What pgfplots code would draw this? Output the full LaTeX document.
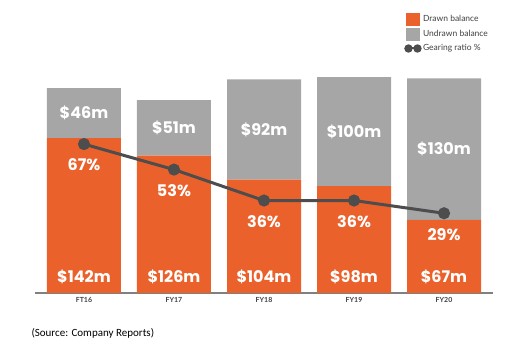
\documentclass[border=0pt]{standalone}
\usepackage{pgfplots}
\pgfplotsset{compat=1.18}
\usepackage{fontspec}
\setmainfont{Lato}
\newfontfamily\valfont{Poppins}
\newfontfamily\srcfont{Carlito}
\definecolor{drawn}{HTML}{EB612B}
\definecolor{undrawn}{HTML}{A6A6A6}
\definecolor{linec}{HTML}{4D4D4D}
\definecolor{axisgray}{HTML}{808080}
\definecolor{ticktext}{HTML}{404040}
\begin{document}
\begin{tikzpicture}[x=1pt,y=1pt]
\useasboundingbox (0,0) rectangle (518,352);
\pgfplotsset{base/.style={at={(35pt,59pt)}, anchor=south west, scale only axis,
  width=458pt, height=272.5pt, xmin=-0.544, xmax=4.544, clip=false}}
% bars
\begin{axis}[base, ymin=0, ymax=250, ybar stacked, bar width=74pt,
  axis x line=bottom, axis y line=none,
  x axis line style={draw=axisgray, line width=1.5pt, -},
  xtick={0,1,2,3,4}, xticklabels={FT16,FY17,FY18,FY19,FY20},
  major tick length=0pt,
  xticklabel style={font=\bfseries\fontsize{7}{8}\selectfont, text=ticktext, yshift=-1pt}]
\addplot[fill=drawn, draw=none] coordinates {(0,142)(1,126)(2,104)(3,98)(4,67)};
\addplot[fill=undrawn, draw=none] coordinates {(0,46)(1,51)(2,92)(3,100)(4,130)};
\end{axis}
% money labels
\begin{axis}[base, ymin=0, ymax=250, hide axis]
\addplot[draw=none, mark=none, nodes near coords={\$\pgfplotspointmeta m},
  point meta=explicit symbolic,
  nodes near coords style={font=\valfont\bfseries\fontsize{16}{18}\selectfont, text=white, anchor=center}]
  table[meta=lab] {
x y lab
0 14.7 142
1 14.7 126
2 14.7 104
3 14.7 98
4 14.7 67
0 165 46
1 151.5 51
2 150 92
3 148 100
4 132 130
};
\end{axis}
% gearing ratio
\begin{axis}[base, ymin=-14.8, ymax=134.9, hide axis,
  legend style={at={(0.806,1.027)}, anchor=north west, draw=none, fill=none,
    font=\fontsize{8.5}{10}\selectfont, text=ticktext, row sep=2.5pt,
    inner sep=0pt, nodes={inner sep=1.5pt}},
  legend cell align=left]
\addlegendimage{legend image code/.code={\fill[drawn] (0pt,-6pt) rectangle (13pt,6pt);}}
\addlegendentry{Drawn balance}
\addlegendimage{legend image code/.code={\fill[undrawn] (0pt,-6pt) rectangle (13pt,6pt);}}
\addlegendentry{Undrawn balance}
\addplot[linec, line width=3pt, mark=*, mark size=4.5pt, mark options={fill=linec, draw=linec},
  legend image code/.code={\draw[linec, line width=2pt] (1pt,0pt) -- (14pt,0pt);
    \fill[linec] (2.5pt,0pt) circle (2.6pt); \fill[linec] (11.5pt,0pt) circle (2.6pt);}]
  coordinates {(0,67)(1,53)(2,36)(3,36)(4,29)};
\addlegendentry{Gearing ratio \%}
\addplot[draw=none, mark=none, nodes near coords={\pgfplotspointmeta\%},
  point meta=explicit symbolic, forget plot,
  nodes near coords style={font=\valfont\bfseries\fontsize{16}{18}\selectfont, text=white, anchor=center, yshift=-21pt}]
  table[meta=lab] {
x y lab
0 67 67
1 53 53
2 36 36
3 36 36
4 29 29
};
\end{axis}
\node[font=\srcfont\fontsize{11}{13}\selectfont, anchor=west, text=black] at (28,19) {(Source: Company Reports)};
\end{tikzpicture}
\end{document}
